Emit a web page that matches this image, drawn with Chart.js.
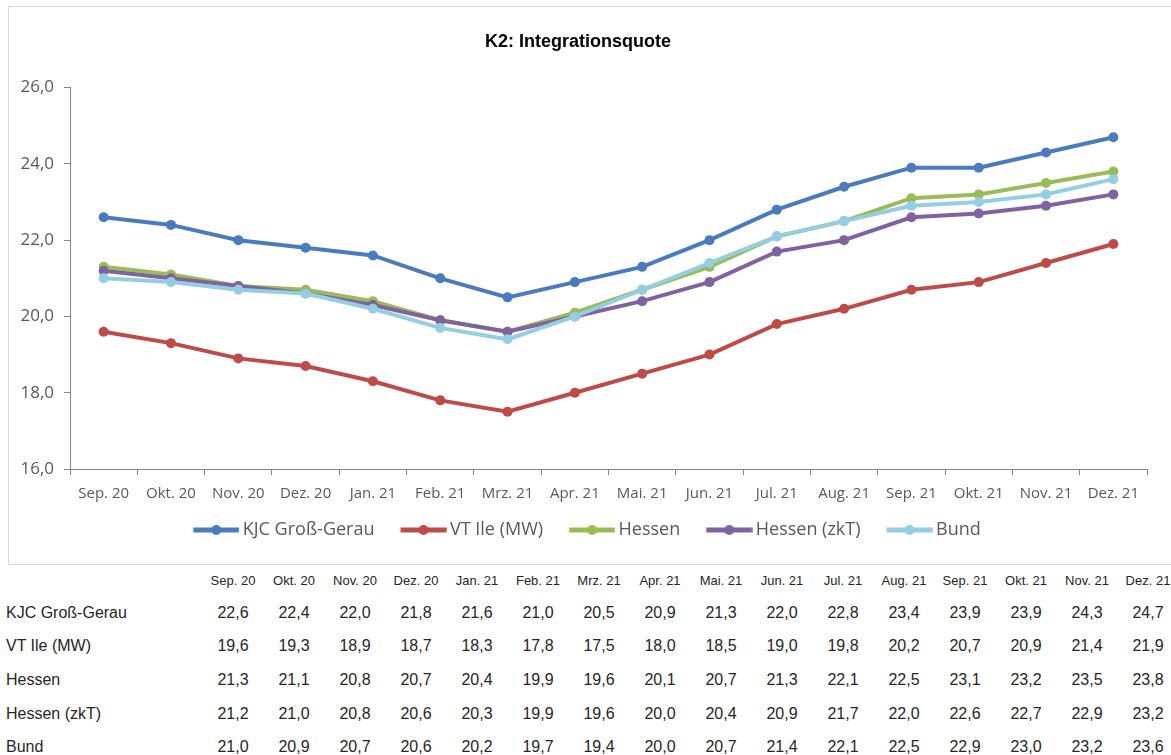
<!DOCTYPE html>
<html><head><meta charset="utf-8">
<script src="https://cdn.jsdelivr.net/npm/chart.js@4.4.0/dist/chart.umd.min.js"></script>
<style>
html,body{margin:0;padding:0;background:#fff;}
body{width:1171px;height:755px;position:relative;overflow:hidden;font-family:"Liberation Sans",Arial,sans-serif;}
#box{position:absolute;left:8px;top:6px;width:1163px;height:559px;border:1px solid #d9d9d9;border-right:none;box-sizing:border-box;}
#cw{position:absolute;left:0;top:0;width:1162px;height:557px;}
.t{position:absolute;white-space:nowrap;color:#262626;line-height:1;}
</style></head><body>
<div id="box"><div id="cw"><canvas id="c"></canvas></div></div>
<div id="table"></div>
<script>
const categories = ["Sep. 20","Okt. 20","Nov. 20","Dez. 20","Jan. 21","Feb. 21","Mrz. 21","Apr. 21","Mai. 21","Jun. 21","Jul. 21","Aug. 21","Sep. 21","Okt. 21","Nov. 21","Dez. 21"];
const seriesNames = ["KJC Groß-Gerau","VT Ile (MW)","Hessen","Hessen (zkT)","Bund"];
const kjcGrossGerau = [22.6,22.4,22.0,21.8,21.6,21.0,20.5,20.9,21.3,22.0,22.8,23.4,23.9,23.9,24.3,24.7];
const vtIleMW      = [19.6,19.3,18.9,18.7,18.3,17.8,17.5,18.0,18.5,19.0,19.8,20.2,20.7,20.9,21.4,21.9];
const hessen       = [21.3,21.1,20.8,20.7,20.4,19.9,19.6,20.1,20.7,21.3,22.1,22.5,23.1,23.2,23.5,23.8];
const hessenZkT    = [21.2,21.0,20.8,20.6,20.3,19.9,19.6,20.0,20.4,20.9,21.7,22.0,22.6,22.7,22.9,23.2];
const bund         = [21.0,20.9,20.7,20.6,20.2,19.7,19.4,20.0,20.7,21.4,22.1,22.5,22.9,23.0,23.2,23.6];
const yTicks = [16,18,20,22,24,26];
const title = "K2: Integrationsquote";

const seriesValues = [kjcGrossGerau, vtIleMW, hessen, hessenZkT, bund];
const colors = ["#4a7bbf","#be4b48","#9bbb59","#7f62a0","#93cfe0"];
const fmt = v => v.toFixed(1).replace('.', ',');

// legend marker images (line + dot)
const P = 58.5, W = 70;
function marker(color){
  const c = document.createElement('canvas');
  c.width = W; c.height = 12;
  const g = c.getContext('2d');
  const s = P/2 - 40.5 + W/2;
  g.strokeStyle = color; g.lineWidth = 5; g.lineCap = 'butt';
  g.beginPath(); g.moveTo(s, 6); g.lineTo(s + 46, 6); g.stroke();
  g.fillStyle = color; g.beginPath(); g.arc(s + 23, 6, 5, 0, Math.PI*2); g.fill();
  return c;
}
const markers = colors.map(marker);

const datasets = seriesNames.map((n, i) => ({
  label: n,
  data: seriesValues[i],
  borderColor: colors[i],
  backgroundColor: colors[i],
  borderWidth: 4,
  pointRadius: 5,
  pointBorderWidth: 0,
  pointHoverRadius: 5,
  tension: 0,
  order: seriesNames.length - i
}));

new Chart(document.getElementById('c'), {
  type: 'line',
  data: { labels: categories, datasets },
  options: {
    responsive: true, maintainAspectRatio: false, animation: false,
    layout: { padding: { left: 0, right: 24, top: 0, bottom: 15 } },
    plugins: {
      title: { display: true, text: title, color: '#000',
        font: { family: '"Liberation Sans", Arial, sans-serif', size: 18, weight: 'bold' },
        padding: { top: 24, bottom: 35 } },
      legend: { position: 'bottom',
        labels: {
          usePointStyle: true, pointStyleWidth: P, boxHeight: 12,
          padding: 8, color: '#595959',
          font: { family: '"Open Sans", sans-serif', size: 18 },
          sort: (a, b) => a.datasetIndex - b.datasetIndex,
          generateLabels: (chart) => {
            const items = Chart.defaults.plugins.legend.labels.generateLabels(chart);
            items.forEach(it => { it.pointStyle = markers[it.datasetIndex]; });
            return items;
          }
        } },
      tooltip: { enabled: false }
    },
    scales: {
      x: {
        offset: true,
        grid: { offset: true, drawOnChartArea: false, drawTicks: true, tickLength: 6, color: '#868686' },
        border: { display: true, color: '#868686', width: 1 },
        ticks: { color: '#595959', padding: 10, maxRotation: 0, autoSkip: false,
          font: { family: '"Open Sans", sans-serif', size: 15 } }
      },
      y: {
        min: 16, max: 26,
        afterBuildTicks: s => { s.ticks = yTicks.map(v => ({ value: v })); },
        afterFit: s => { s.width = 61; },
        grid: { drawOnChartArea: false, drawTicks: true, tickLength: 6, color: '#868686' },
        border: { display: true, color: '#868686', width: 1 },
        ticks: { color: '#595959', padding: 10, callback: v => fmt(v),
          font: { family: '"Open Sans", sans-serif', size: 17 } }
      }
    }
  }
});

// data table below the chart
const tbl = document.getElementById('table');
function addText(txt, x, y, size, align){
  const d = document.createElement('div');
  d.className = 't';
  d.textContent = txt;
  d.style.fontSize = size + 'px';
  d.style.top = (y - size/2) + 'px';
  if (align === 'center') { d.style.left = x + 'px'; d.style.transform = 'translateX(-50%)'; }
  else d.style.left = x + 'px';
  tbl.appendChild(d);
}
const colX = i => 233 + i * 61;
const rowY = [613, 646, 680, 714, 747];
categories.forEach((c, i) => addText(c, colX(i), 580, 13, 'center'));
seriesNames.forEach((n, r) => {
  addText(n, 6, rowY[r], 16, 'left');
  seriesValues[r].forEach((v, i) => addText(fmt(v), colX(i), rowY[r], 16, 'center'));
});
</script>
</body></html>
